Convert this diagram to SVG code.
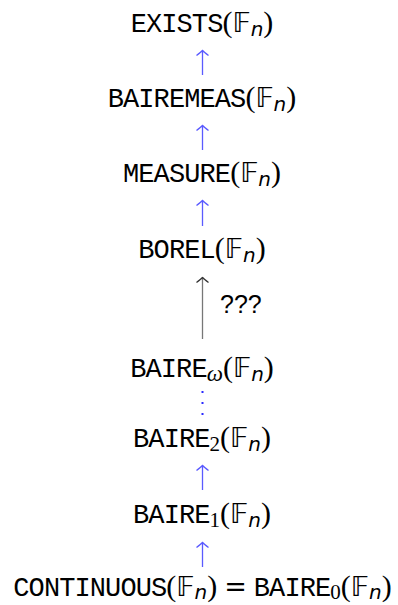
<svg xmlns="http://www.w3.org/2000/svg" width="398" height="605" viewBox="0 0 398 605">
<defs>
<style>
text{fill:#000}
.tt{font-family:"Liberation Mono","DejaVu Sans Mono",monospace;font-size:27px;letter-spacing:-0.9px}
.pr{font-family:"Liberation Serif","DejaVu Serif",serif;font-size:30px}
.eq{font-family:"DejaVu Serif","Liberation Serif",serif;font-size:27px}
.bb{font-family:"DejaVu Sans",sans-serif;font-size:27px}
.sn{font-family:"DejaVu Sans",sans-serif;font-style:italic;font-size:20px}
.sd{font-family:"Liberation Serif","DejaVu Serif",serif;font-size:21px}
.sw{font-family:"Liberation Serif","DejaVu Serif",serif;font-style:italic;font-size:23px}
.q{font-family:"Liberation Sans","DejaVu Sans",sans-serif;font-size:25px}
.blue{stroke:#5a5aff;stroke-width:1.3;fill:none}
.gray{stroke:#777;stroke-width:1.3;fill:none}
.dot{fill:#2a2aff}
</style>
<marker id="hb" markerUnits="userSpaceOnUse" orient="auto" markerWidth="14" markerHeight="14" refX="0" refY="0" viewBox="-7 -7 14 14" overflow="visible">
<path d="M-5,-6 Q-1.5,-1.5 0,0 Q-1.5,1.5 -5,6" fill="none" stroke="#5a5aff" stroke-width="1.3"/>
</marker>
<marker id="hg" markerUnits="userSpaceOnUse" orient="auto" markerWidth="14" markerHeight="14" refX="0" refY="0" viewBox="-7 -7 14 14" overflow="visible">
<path d="M-5,-6 Q-1.5,-1.5 0,0 Q-1.5,1.5 -5,6" fill="none" stroke="#333" stroke-width="1.2"/>
</marker>
</defs>
<g id="connectors">
<line class="blue" x1="202.5" y1="75" x2="202.5" y2="50.5" marker-end="url(#hb)"/>
<line class="blue" x1="202.5" y1="150" x2="202.5" y2="125.5" marker-end="url(#hb)"/>
<line class="blue" x1="202.5" y1="226" x2="202.5" y2="200.5" marker-end="url(#hb)"/>
<line class="gray" x1="202.5" y1="339" x2="202.5" y2="277.5" marker-end="url(#hg)"/>
<text class="q" x="220" y="313">???</text>
<rect class="dot" x="201.5" y="391" width="2" height="2"/>
<rect class="dot" x="201.5" y="402" width="2" height="2"/>
<rect class="dot" x="201.5" y="413" width="2" height="2"/>
<line class="blue" x1="202.5" y1="490" x2="202.5" y2="465.5" marker-end="url(#hb)"/>
<line class="blue" x1="202.5" y1="567" x2="202.5" y2="542.5" marker-end="url(#hb)"/>
</g>
<g id="exists"><text x="202" y="32" text-anchor="middle"><tspan class="tt">EXISTS</tspan><tspan class="pr">(</tspan><tspan class="bb">𝔽</tspan><tspan class="sn" dy="4">n</tspan><tspan class="pr" dy="-4">)</tspan></text></g>
<g id="bairemeas"><text x="202" y="107" text-anchor="middle"><tspan class="tt">BAIREMEAS</tspan><tspan class="pr">(</tspan><tspan class="bb">𝔽</tspan><tspan class="sn" dy="4">n</tspan><tspan class="pr" dy="-4">)</tspan></text></g>
<g id="measure"><text x="202" y="182" text-anchor="middle"><tspan class="tt">MEASURE</tspan><tspan class="pr">(</tspan><tspan class="bb">𝔽</tspan><tspan class="sn" dy="4">n</tspan><tspan class="pr" dy="-4">)</tspan></text></g>
<g id="borel"><text x="202" y="258" text-anchor="middle"><tspan class="tt">BOREL</tspan><tspan class="pr">(</tspan><tspan class="bb">𝔽</tspan><tspan class="sn" dy="4">n</tspan><tspan class="pr" dy="-4">)</tspan></text></g>
<g id="baire-omega"><text x="202" y="377" text-anchor="middle"><tspan class="tt">BAIRE</tspan><tspan class="sw" dy="4">ω</tspan><tspan class="pr" dy="-4">(</tspan><tspan class="bb">𝔽</tspan><tspan class="sn" dy="4">n</tspan><tspan class="pr" dy="-4">)</tspan></text></g>
<g id="baire-2"><text x="202" y="447" text-anchor="middle"><tspan class="tt">BAIRE</tspan><tspan class="sd" dy="4">2</tspan><tspan class="pr" dy="-4">(</tspan><tspan class="bb">𝔽</tspan><tspan class="sn" dy="4">n</tspan><tspan class="pr" dy="-4">)</tspan></text></g>
<g id="baire-1"><text x="202" y="523" text-anchor="middle"><tspan class="tt">BAIRE</tspan><tspan class="sd" dy="4">1</tspan><tspan class="pr" dy="-4">(</tspan><tspan class="bb">𝔽</tspan><tspan class="sn" dy="4">n</tspan><tspan class="pr" dy="-4">)</tspan></text></g>
<g id="continuous"><text x="202.5" y="596" text-anchor="middle"><tspan class="tt">CONTINUOUS</tspan><tspan class="pr">(</tspan><tspan class="bb">𝔽</tspan><tspan class="sn" dy="3">n</tspan><tspan class="pr" dy="-3">)</tspan><tspan class="eq" dx="7">=</tspan><tspan class="tt" dx="7">BAIRE</tspan><tspan class="sd" dy="3">0</tspan><tspan class="pr" dy="-3">(</tspan><tspan class="bb">𝔽</tspan><tspan class="sn" dy="3">n</tspan><tspan class="pr" dy="-3">)</tspan></text></g>
</svg>
